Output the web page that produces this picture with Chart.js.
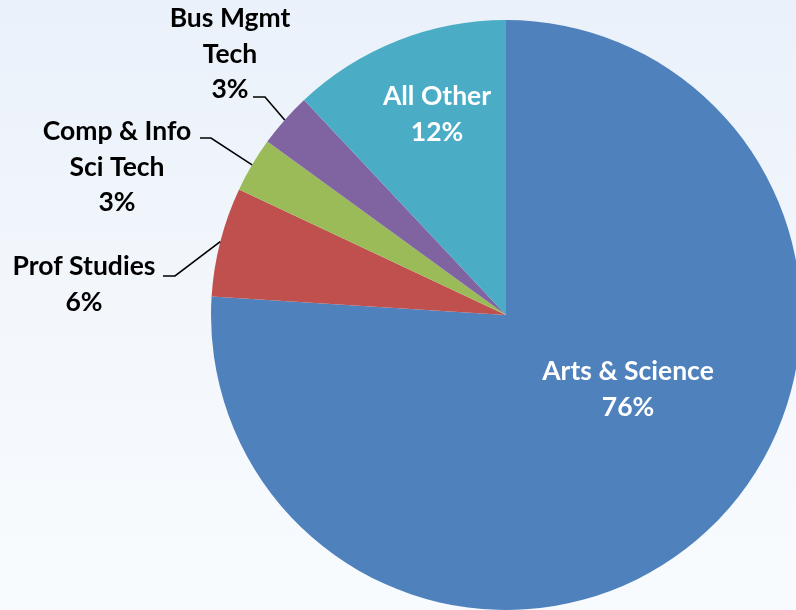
<!DOCTYPE html>
<html>
<head>
<meta charset="utf-8">
<script src="https://cdn.jsdelivr.net/npm/chart.js@4.4.1/dist/chart.umd.min.js"></script>
<style>
  html, body { margin: 0; padding: 0; width: 796px; height: 610px; overflow: hidden; }
  body { background: linear-gradient(#eaf1fa, #f3f7fc 50%, #f8fbfe); }
  #wrap { position: absolute; left: 0; top: 0; width: 812px; height: 610px; }
</style>
</head>
<body>
<div id="wrap"><canvas id="myChart"></canvas></div>
<script>
const categories = ['Arts & Science', 'Prof Studies', 'Comp & Info Sci Tech', 'Bus Mgmt Tech', 'All Other'];
const shares = [76, 6, 3, 3, 12];
const labelLines = [['Arts & Science'], ['Prof Studies'], ['Comp & Info', 'Sci Tech'], ['Bus Mgmt', 'Tech'], ['All Other']];
const sliceColors = ['#4f81bd', '#c0504d', '#9bbb59', '#8064a2', '#4bacc6'];

// where each data label sits (centre x, first baseline y) and its leader line
const labelPos = [
  { x: 628, y: 380, color: '#fff' },
  { x: 84, y: 275, color: '#000', leader: { x: 163, y: 276, len: 12 } },
  { x: 117, y: 140, color: '#000', leader: { x: 200, y: 138, len: 11 } },
  { x: 230, y: 27, color: '#000', leader: { x: 253, y: 97, len: 12 } },
  { x: 437, y: 105, color: '#fff' }
];
const lineGap = 35.5;

const pieLabels = {
  id: 'pieLabels',
  afterDatasetsDraw(chart) {
    const ctx = chart.ctx;
    const arcs = chart.getDatasetMeta(0).data;
    ctx.save();
    ctx.font = 'bold 26.5px Lato, "Open Sans", sans-serif';
    ctx.textAlign = 'center';
    ctx.textBaseline = 'alphabetic';
    arcs.forEach((arc, i) => {
      const p = labelPos[i];
      const lines = labelLines[i].concat([shares[i] + '%']);
      ctx.fillStyle = p.color;
      lines.forEach((t, k) => ctx.fillText(t, p.x, p.y + k * lineGap));
      if (p.leader) {
        const a = arc.getProps(['x', 'y', 'startAngle', 'endAngle', 'outerRadius'], true);
        const mid = (a.startAngle + a.endAngle) / 2;
        const ex = a.x + Math.cos(mid) * a.outerRadius;
        const ey = a.y + Math.sin(mid) * a.outerRadius;
        ctx.beginPath();
        ctx.strokeStyle = '#000';
        ctx.lineWidth = 1.6;
        ctx.moveTo(p.leader.x, p.leader.y);
        ctx.lineTo(p.leader.x + p.leader.len, p.leader.y);
        ctx.lineTo(ex, ey);
        ctx.stroke();
      }
    });
    ctx.restore();
  }
};

const ctx = document.getElementById('myChart').getContext('2d');
const chart = new Chart(ctx, {
  type: 'pie',
  data: {
    labels: categories,
    datasets: [{
      data: shares,
      backgroundColor: sliceColors,
      borderWidth: 0
    }]
  },
  options: {
    responsive: true,
    maintainAspectRatio: false,
    animation: false,
    layout: { padding: { left: 211, right: 11, top: 20, bottom: 0 } },
    plugins: {
      legend: { display: false },
      tooltip: { enabled: false }
    }
  },
  plugins: [pieLabels]
});
</script>
</body>
</html>
